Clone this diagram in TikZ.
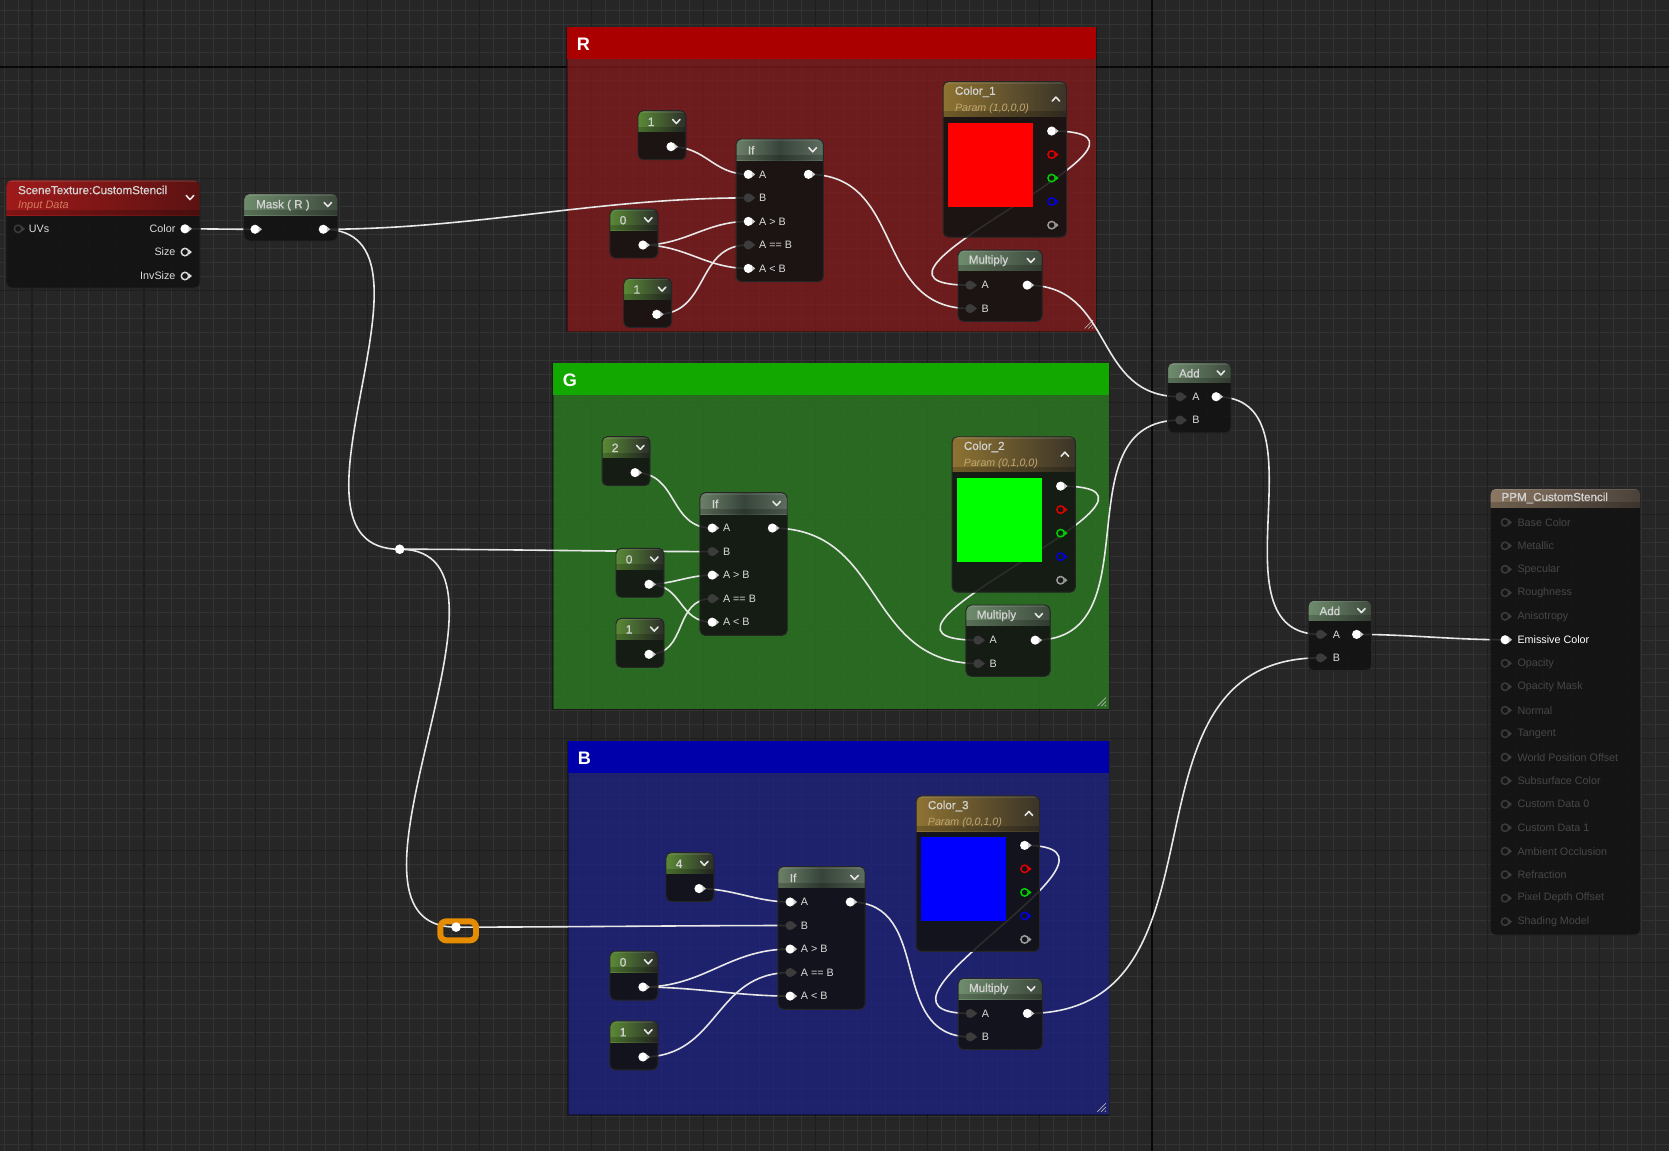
\documentclass[tikz,border=0pt]{standalone}
\usepackage{fontspec}
\setmainfont{Liberation Sans}
\newfontfamily\uetitlefont{Liberation Sans}[FakeBold=0.9]
\pgfdeclarelayer{gridl}
\pgfdeclarelayer{comm}
\pgfdeclarelayer{wirel}
\pgfdeclarelayer{nodel}
\pgfsetlayers{gridl,comm,wirel,nodel,main}
\definecolor{bgc}{HTML}{262626}
\definecolor{minorc}{HTML}{333333}
\definecolor{majorc}{HTML}{1E1E1E}
\definecolor{superc}{HTML}{080808}
\definecolor{bodyc}{HTML}{121212}
\definecolor{wirec}{HTML}{E8E8E8}
\definecolor{darkpin}{HTML}{3C3C3C}
\definecolor{labc}{HTML}{DCDCDC}
\definecolor{titc}{HTML}{D2D2D2}
\definecolor{rhead}{HTML}{AA0000}
\definecolor{rbody}{HTML}{7E1A1A}
\definecolor{ghead}{HTML}{13A800}
\definecolor{gbody}{HTML}{2A7A22}
\definecolor{bhead}{HTML}{0000AA}
\definecolor{bbody}{HTML}{1D217F}
\definecolor{constL}{HTML}{5A8A36}
\definecolor{constR}{HTML}{2B2E29}
\definecolor{ifL}{HTML}{6C8068}
\definecolor{ifM}{HTML}{37443A}
\definecolor{ifR}{HTML}{5D6D5E}
\definecolor{mulL}{HTML}{6F8C6D}
\definecolor{mulR}{HTML}{3E4B3E}
\definecolor{colL}{HTML}{8E7332}
\definecolor{colR}{HTML}{3A3428}
\definecolor{stL}{HTML}{A01A1A}
\definecolor{stR}{HTML}{5C1212}
\definecolor{ppmL}{HTML}{8C7863}
\definecolor{ppmR}{HTML}{4A4139}
\definecolor{parc}{HTML}{C2A872}
\definecolor{inpc}{HTML}{D27A5E}
\definecolor{ppmdim}{HTML}{3C3C3C}
\definecolor{ppmtxt}{HTML}{474747}
\definecolor{uered}{HTML}{E00000}
\definecolor{uegreen}{HTML}{00D000}
\definecolor{ueblue}{HTML}{0000E0}
\definecolor{uegrey}{HTML}{9A9A9A}
\definecolor{ueorange}{HTML}{E68C00}

\newcommand\ueChev[2]{\draw[chev] ({#1-3.5},{#2-1.8}) -- ({#1},{#2+2}) -- ({#1+3.5},{#2-1.8});}
\newcommand\ueChevUp[2]{\draw[chev] ({#1-3.5},{#2+1.8}) -- ({#1},{#2-2}) -- ({#1+3.5},{#2+1.8});}
\newcommand\uePinW[3]{\node[pinW] (#1) at ({#2},{#3}) {};\fill[white!80!black] ({#2+3.4},{#3-2.6}) -- ({#2+6.5},{#3}) -- ({#2+3.4},{#3+2.6}) -- cycle;}
\newcommand\uePinD[3]{\node[pinD] (#1) at ({#2},{#3}) {};\fill[darkpin] ({#2+3.4},{#3-2.6}) -- ({#2+6.5},{#3}) -- ({#2+3.4},{#3+2.6}) -- cycle;}
\newcommand\uePinH[4]{\node[pinH, draw=#4] (#1) at ({#2},{#3}) {};\fill[#4] ({#2+3.6},{#3-2.5}) -- ({#2+6.5},{#3}) -- ({#2+3.6},{#3+2.5}) -- cycle;}
\newcommand\ueWire[3]{\draw[wire] (#1.center) .. controls +(#3,0) and +(-#3,0) .. (#2.center);}

\newcommand\ueBox[7]{%
\begin{pgfonlayer}{nodel}
\node[uebody, minimum width=#4pt, minimum height=#5pt, anchor=north west] (#1) at ({#2},{#3}) {};
\begin{scope}
\clip[rounded corners=5] ({#2},{#3}) rectangle ({#2+#4},{#3+#5});
\shade[#7] ({#2},{#3}) rectangle ({#2+#4},{#3+#6});
\fill[white, opacity=0.10] ({#2},{#3}) rectangle ({#2+#4},{#3+2});
\fill[black, opacity=0.2] ({#2},{#3+#6-5}) rectangle ({#2+#4},{#3+#6});
\end{scope}
\draw[nodeedge, rounded corners=5] ({#2},{#3}) rectangle ({#2+#4},{#3+#5});
\end{pgfonlayer}}

\newcommand\ueConst[4]{%
\ueBox{#1}{#2}{#3}{45}{46}{20}{constshade}
\node[valt] (#1v) at ({#2+9},{#3+10.5}) {#4};
\ueChev{#2+36}{#3+10}
\uePinW{#1o}{#2+31}{#3+33.8}}

\newcommand\ueIf[3]{%
\ueBox{#1}{#2}{#3}{82}{134}{20}{ifshade}
\node[titl] (#1t) at ({#2+11},{#3+10.5}) {If};
\ueChev{#2+72}{#3+10}
\uePinW{#1A}{#2+11.5}{#3+33.2}
\uePinD{#1B}{#2+11.5}{#3+55.3}
\uePinW{#1GT}{#2+11.5}{#3+77.4}
\uePinD{#1EQ}{#2+11.5}{#3+99.5}
\uePinW{#1LT}{#2+11.5}{#3+121.6}
\uePinW{#1O}{#2+68}{#3+33.2}
\node[plab] (#1lA) at ({#2+21.5},{#3+33.2}) {A};
\node[plab] (#1lB) at ({#2+21.5},{#3+55.3}) {B};
\node[plab] (#1lGT) at ({#2+21.5},{#3+77.4}) {A > B};
\node[plab] (#1lEQ) at ({#2+21.5},{#3+99.5}) {A == B};
\node[plab] (#1lLT) at ({#2+21.5},{#3+121.6}) {A < B};}

\newcommand\ueMul[3]{%
\ueBox{#1}{#2}{#3}{79}{67}{19.5}{mulshade}
\node[titl] (#1t) at ({#2+10},{#3+10}) {Multiply};
\ueChev{#2+68.5}{#3+9.7}
\uePinD{#1A}{#2+11.3}{#3+33}
\uePinD{#1B}{#2+11.3}{#3+55}
\uePinW{#1O}{#2+65}{#3+33}
\node[plab] (#1lA) at ({#2+22},{#3+33}) {A};
\node[plab] (#1lB) at ({#2+22},{#3+55}) {B};}

\newcommand\ueAdd[3]{%
\ueBox{#1}{#2}{#3}{59.5}{66}{19}{mulshade}
\node[titl] (#1t) at ({#2+10.5},{#3+10}) {Add};
\ueChev{#2+50}{#3+9.5}
\uePinD{#1A}{#2+11.5}{#3+32}
\uePinD{#1B}{#2+11.5}{#3+54}
\uePinW{#1O}{#2+45.5}{#3+32}
\node[plab] (#1lA) at ({#2+23},{#3+32}) {A};
\node[plab] (#1lB) at ({#2+23},{#3+54}) {B};}

\newcommand\ueColor[6]{%
\ueBox{#1}{#2}{#3}{116}{146}{33}{colshade}
\node[titl] (#1t) at ({#2+11},{#3+9.5}) {#4};
\node[part] (#1p) at ({#2+11},{#3+25}) {#5};
\ueChevUp{#2+106}{#3+16.5}
\fill[#6] ({#2+5},{#3+39}) rectangle ({#2+84.5},{#3+117.5});
\uePinW{#1W}{#2+102}{#3+46.4}
\uePinH{#1R}{#2+102}{#3+68.5}{uered}
\uePinH{#1G}{#2+102}{#3+90.6}{uegreen}
\uePinH{#1B}{#2+102}{#3+112.7}{ueblue}
\uePinH{#1A}{#2+102}{#3+134.8}{uegrey}}

\newcommand\ueComment[8]{%
\begin{pgfonlayer}{comm}
\fill[#8, fill opacity=0.8] (#2,#3) rectangle (#4,#5);
\draw[black, opacity=0.35, line width=1] (#2,#3) rectangle (#4,#5);
\fill[#7] (#2,#3) rectangle (#4,#6);
\draw[white!70!black, line width=0.7] ({#4-3},{#5-11}) -- ({#4-11},{#5-3}) ({#4-3},{#5-7.5}) -- ({#4-7.5},{#5-3}) ({#4-3},{#5-4}) -- ({#4-4},{#5-3});
\end{pgfonlayer}
\node[cmtl] (#1) at ({#2+9},{(#3+#6)/2+1}) {#1};}

\begin{document}
\begin{tikzpicture}[x=1pt,y=-1pt,
  uebody/.style={rectangle, fill=bodyc, fill opacity=0.88, draw=none, rounded corners=5, inner sep=0},
  nodeedge/.style={draw=black!85, line width=0.9},
  constshade/.style={left color=constL, right color=constR},
  ifshade/.style={left color=ifL, right color=ifR, middle color=ifM},
  mulshade/.style={left color=mulL, right color=mulR},
  colshade/.style={left color=colL, right color=colR},
  stshade/.style={left color=stL, right color=stR},
  ppmshade/.style={left color=ppmL, right color=ppmR},
  wire/.style={draw=wirec, line width=1.5},
  chev/.style={draw=white!90!black, line width=1.5, line cap=round, line join=round},
  pinW/.style={circle, fill=white, inner sep=0, minimum size=8.6pt},
  pinD/.style={circle, fill=darkpin, inner sep=0, minimum size=8.6pt},
  pinH/.style={circle, line width=1.4, inner sep=0, minimum size=7pt},
  plab/.style={anchor=west, inner sep=0, text=labc, font=\fontsize{10.1}{11}\selectfont},
  plabr/.style={anchor=east, inner sep=0, text=labc, font=\fontsize{10.1}{11}\selectfont},
  titl/.style={anchor=west, inner sep=0, text=titc, font=\uetitlefont\fontsize{10.9}{12}\selectfont},
  valt/.style={anchor=west, inner sep=0, text=titc, font=\uetitlefont\fontsize{11.3}{12}\selectfont},
  part/.style={anchor=west, inner sep=0, text=parc, font=\itshape\fontsize{10}{11}\selectfont},
  cmtl/.style={anchor=west, inner sep=0, text=white, font=\bfseries\fontsize{17}{19}\selectfont},
  reroute/.style={circle, fill=white, inner sep=0, minimum size=9pt}]
\useasboundingbox (0,0) rectangle (1568,1081);

% grid
\begin{pgfonlayer}{gridl}
\fill[bgc] (0,0) rectangle (1568,1081);
\foreach \i in {-2,...,117} \draw[minorc, line width=0.9] ({30.06+\i*13.15},0) -- ({30.06+\i*13.15},1081);
\foreach \j in {-4,...,77} \draw[minorc, line width=0.9] (0,{62.7+\j*13.15}) -- (1568,{62.7+\j*13.15});
\foreach \i in {0,...,14} \draw[majorc, line width=1] ({30.06+\i*105.2},0) -- ({30.06+\i*105.2},1081);
\foreach \j in {0,...,9} \draw[majorc, line width=1] (0,{62.7+\j*105.2}) -- (1568,{62.7+\j*105.2});
\draw[superc, line width=1.6] (1082.3,0) -- (1082.3,1081);
\draw[superc, line width=1.6] (0,62.7) -- (1568,62.7);
\end{pgfonlayer}

% comments
\ueComment{R}{532.7}{25.4}{1030}{311.6}{55.4}{rhead}{rbody}
\ueComment{G}{519.5}{341.3}{1042}{666.4}{371.1}{ghead}{gbody}
\ueComment{B}{533.6}{696.2}{1042}{1047.5}{726.5}{bhead}{bbody}

% SceneTexture
\ueBox{st}{5.6}{169}{182.4}{101.6}{33}{stshade}
\node[titl] (stt) at (16.8,178.5) {SceneTexture:CustomStencil};
\node[part, text=inpc, font=\itshape\fontsize{10.3}{11}\selectfont] (stp) at (16.8,193.5) {Input Data};
\ueChev{178.5}{185.5}
\uePinH{stUV}{17}{215}{darkpin}
\node[plab] (stlUV) at (27,215) {UVs};
\uePinW{stColor}{173.8}{215}
\node[plabr] (stlC) at (165,215) {Color};
\uePinH{stSize}{173.8}{236.8}{white!85!black}
\node[plabr] (stlS) at (165,236.8) {Size};
\uePinH{stInv}{173.8}{259.3}{white!85!black}
\node[plabr] (stlI) at (165,259.3) {InvSize};

% Mask
\ueBox{mask}{229}{182}{88.5}{44.4}{20}{mulshade}
\node[titl] (maskt) at (240.5,192.8) {Mask ( R )};
\ueChev{308}{192}
\uePinW{mIn}{239.6}{215.4}
\uePinW{mOut}{303.7}{215.4}

% reroutes
\node[reroute] (rr1) at (375.5,516) {};
\begin{pgfonlayer}{nodel}
\draw[ueorange, line width=5.6, rounded corners=5.5] (413.7,865.6) rectangle (447.2,883.4);
\end{pgfonlayer}
\node[reroute] (rr2) at (428.5,871) {};

% R group
\ueConst{Rc1}{599.4}{104}{1}
\ueConst{Rc0}{573}{196.4}{0}
\ueConst{Rc1b}{586}{261.5}{1}
\ueIf{Rif}{691.5}{130.6}
\ueColor{Rcol}{886}{76.7}{Color\_1}{Param (1,0,0,0)}{red}
\ueMul{Rmul}{900}{234.9}

% G group
\ueConst{Gc2}{565.6}{410.2}{2}
\ueConst{Gc0}{578.7}{515.1}{0}
\ueConst{Gc1}{578.7}{580.9}{1}
\ueIf{Gif}{657.6}{462.9}
\ueColor{Gcol}{894.4}{410.3}{Color\_2}{Param (0,1,0,0)}{green}
\ueMul{Gmul}{907.5}{568.4}

% B group
\ueConst{Bc4}{625.7}{801}{4}
\ueConst{Bc0}{573}{893.5}{0}
\ueConst{Bc1}{573}{959.2}{1}
\ueIf{Bif}{730.8}{814.2}
\ueColor{Bcol}{860.6}{747.8}{Color\_3}{Param (0,0,1,0)}{blue}
\ueMul{Bmul}{900.2}{919.1}

% Adds
\ueAdd{a1}{1097}{340.7}
\ueAdd{a2}{1229}{564}

% PPM
\ueBox{ppm}{1400}{458.8}{141.4}{419.6}{18.2}{ppmshade}
\node[titl] (ppmt) at (1410.5,467.8) {PPM\_CustomStencil};
\foreach \k/\lab in {0/Base Color,1/Metallic,2/Specular,3/Roughness,4/Anisotropy,6/Opacity,7/Opacity Mask,8/Normal,9/Tangent,10/World Position Offset,11/Subsurface Color,12/Custom Data 0,13/Custom Data 1,14/Ambient Occlusion,15/Refraction,16/Pixel Depth Offset,17/Shading Model}{
  \uePinH{ppmP\k}{1414}{490.7+22.07*\k}{ppmdim}
  \node[plab, text=ppmtxt] (ppmL\k) at (1425.5,{490.7+22.07*\k}) {\lab};
}
\uePinW{pEm}{1414}{601.05}
\node[plab, text=white] (ppmLEm) at (1425.5,601.05) {Emissive Color};

% wires
\begin{pgfonlayer}{wirel}
\ueWire{stColor}{mIn}{23}
\ueWire{mOut}{RifB}{143}
\ueWire{mOut}{rr1}{128}
\ueWire{rr1}{GifB}{98}
\ueWire{rr1}{rr2}{136}
\ueWire{rr2}{BifB}{105}
\ueWire{Rc1o}{RifA}{33}
\ueWire{Rc0o}{RifGT}{40}
\ueWire{Rc0o}{RifLT}{40}
\ueWire{Rc1bo}{RifEQ}{50}
\ueWire{RifO}{RmulB}{92}
\ueWire{RcolW}{RmulA}{149}
\ueWire{RmulO}{a1A}{83}
\ueWire{Gc2o}{GifA}{41}
\ueWire{Gc0o}{GifGT}{22}
\ueWire{Gc0o}{GifLT}{32}
\ueWire{Gc1o}{GifEQ}{37}
\ueWire{GifO}{GmulB}{107}
\ueWire{GcolW}{GmulA}{149}
\ueWire{GmulO}{a1B}{114}
\ueWire{Bc4o}{BifA}{32}
\ueWire{Bc0o}{BifGT}{58}
\ueWire{Bc0o}{BifLT}{49}
\ueWire{Bc1o}{BifEQ}{72}
\ueWire{BifO}{BmulB}{79}
\ueWire{BcolW}{BmulA}{130}
\ueWire{BmulO}{a2B}{203}
\ueWire{a1O}{a2A}{107}
\ueWire{a2O}{pEm}{48}
\end{pgfonlayer}
\end{tikzpicture}
\end{document}
